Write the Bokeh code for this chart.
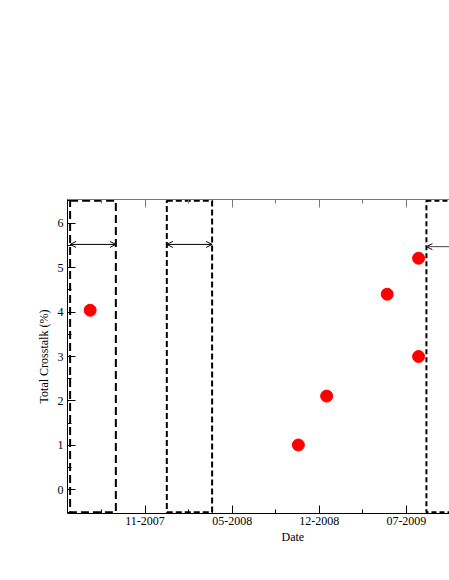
import pandas as pd
from bokeh.plotting import figure
from bokeh.models import (ColumnDataSource, Range1d, FixedTicker, DatetimeAxis,
                          Arrow, OpenHead, Title, DatetimeTickFormatter)
from bokeh.embed import file_html
from bokeh.resources import INLINE

# ---- data ----
dates = ["2007-07-07", "2008-10-27", "2008-12-31", "2009-05-19", "2009-07-30", "2009-07-30"]
crosstalk = [4.04, 1.01, 2.11, 4.40, 3.00, 5.21]

period_start = ["2007-05-22", "2007-12-30", "2009-08-17"]
period_end = ["2007-09-04", "2008-04-12", "2010-03-01"]
period_dash = ["8 4", "6 3", "5 3"]
arrow_y = [5.52, 5.52, 5.47]

xtick_dates = ["2007-11-10", "2008-05-28", "2008-12-14", "2009-07-02"]
xtick_labels = ["11-2007", "05-2008", "12-2008", "07-2009"]
xminor_dates = ["2007-08-02", "2008-02-17", "2008-09-04", "2009-03-24"]
yticks = [0, 1, 2, 3, 4, 5, 6]
yminor = [-0.5, 0.5, 1.5, 2.5, 3.5, 4.5, 5.5, 6.5]

x_start, x_end = "2007-05-16", "2009-10-09"
y_lo, y_hi = -0.53, 6.53
rect_lo, rect_hi = -0.5, 6.5


def ms(s):
    return int(pd.Timestamp(s).timestamp() * 1000)


FONT = "Liberation Serif"

p = figure(frame_width=382, frame_height=314, x_axis_type="datetime",
           x_range=Range1d(ms(x_start), ms(x_end)), y_range=Range1d(y_lo, y_hi),
           output_backend="svg", toolbar_location=None,
           min_border_left=67, min_border_right=0, min_border_top=199, min_border_bottom=50)
p.outline_line_color = None
p.grid.visible = False
p.background_fill_color = "white"

xt = FixedTicker(ticks=[ms(d) for d in xtick_dates], minor_ticks=[ms(d) for d in xminor_dates])
yt = FixedTicker(ticks=yticks, minor_ticks=yminor)

fmt_all = dict(days="%m-%Y", months="%m-%Y", years="%m-%Y", hours="%m-%Y", minutes="%m-%Y",
               seconds="%m-%Y", milliseconds="%m-%Y", minsec="%m-%Y", hourmin="%m-%Y")

# bottom axis
xa = p.xaxis[0]
xa.ticker = xt
xa.formatter = DatetimeTickFormatter(**fmt_all)
xa.major_label_overrides = {ms(d): lab for d, lab in zip(xtick_dates, xtick_labels)}
xa.major_tick_in = 8
xa.major_tick_out = 0
xa.minor_tick_in = 4
xa.minor_tick_out = 0
xa.axis_line_color = "black"
xa.major_tick_line_color = "black"
xa.minor_tick_line_color = "black"
xa.major_label_text_font = FONT
xa.major_label_text_font_size = "12px"
xa.major_label_text_color = "black"
xa.major_label_standoff = 3

# top axis (mirror, no labels)
ta = DatetimeAxis(ticker=xt, major_tick_in=8, major_tick_out=0, minor_tick_in=4, minor_tick_out=0,
                  axis_line_color="#777777", major_tick_line_color="#777777",
                  minor_tick_line_color="#777777",
                  major_label_overrides={ms(d): "" for d in xtick_dates},
                  major_label_text_font_size="10px")
p.add_layout(ta, "above")

# left axis
ya = p.yaxis[0]
ya.ticker = yt
ya.major_tick_in = 8
ya.major_tick_out = 0
ya.minor_tick_in = 4
ya.minor_tick_out = 0
ya.axis_line_color = "black"
ya.major_tick_line_color = "black"
ya.minor_tick_line_color = "black"
ya.major_label_text_font = FONT
ya.major_label_text_font_size = "12px"
ya.major_label_text_color = "black"
ya.major_label_standoff = 4
ya.axis_label = "Total Crosstalk (%)"
ya.axis_label_text_font = FONT
ya.axis_label_text_font_size = "12px"
ya.axis_label_text_font_style = "normal"
ya.axis_label_text_color = "black"
ya.axis_label_standoff = 4

# dashed period boxes
for s, e, d in zip(period_start, period_end, period_dash):
    p.quad(left=[ms(s)], right=[ms(e)], bottom=[rect_lo], top=[rect_hi],
           fill_color=None, line_color="black", line_width=2, line_dash=d)

# arrows
src2 = ColumnDataSource(dict(x0=[ms(s) for s in period_start[:2]],
                             x1=[ms(e) for e in period_end[:2]],
                             y=arrow_y[:2]))
p.add_layout(Arrow(x_start="x0", y_start="y", x_end="x1", y_end="y", source=src2,
                   start=OpenHead(size=6, line_width=1, line_color="black"),
                   end=OpenHead(size=6, line_width=1, line_color="black"),
                   line_width=1, line_color="black"))
src1 = ColumnDataSource(dict(x0=[ms(period_end[2])], x1=[ms(period_start[2])], y=[arrow_y[2]]))
p.add_layout(Arrow(x_start="x0", y_start="y", x_end="x1", y_end="y", source=src1,
                   end=OpenHead(size=6, line_width=1, line_color="black"),
                   line_width=1, line_color="#444444"))

# points
src = ColumnDataSource(dict(x=[ms(d) for d in dates], y=crosstalk))
p.scatter("x", "y", source=src, size=12, fill_color="#ff0000", line_color="#ff0000")

# x axis title (offset as in the original, which was wider than the window)
p.add_layout(Title(text="Date", text_font=FONT, text_font_size="12px", text_font_style="normal",
                   text_color="black", align="left", offset=214, standoff=0), "below")

open("out.html", "w").write(file_html(p, INLINE))
